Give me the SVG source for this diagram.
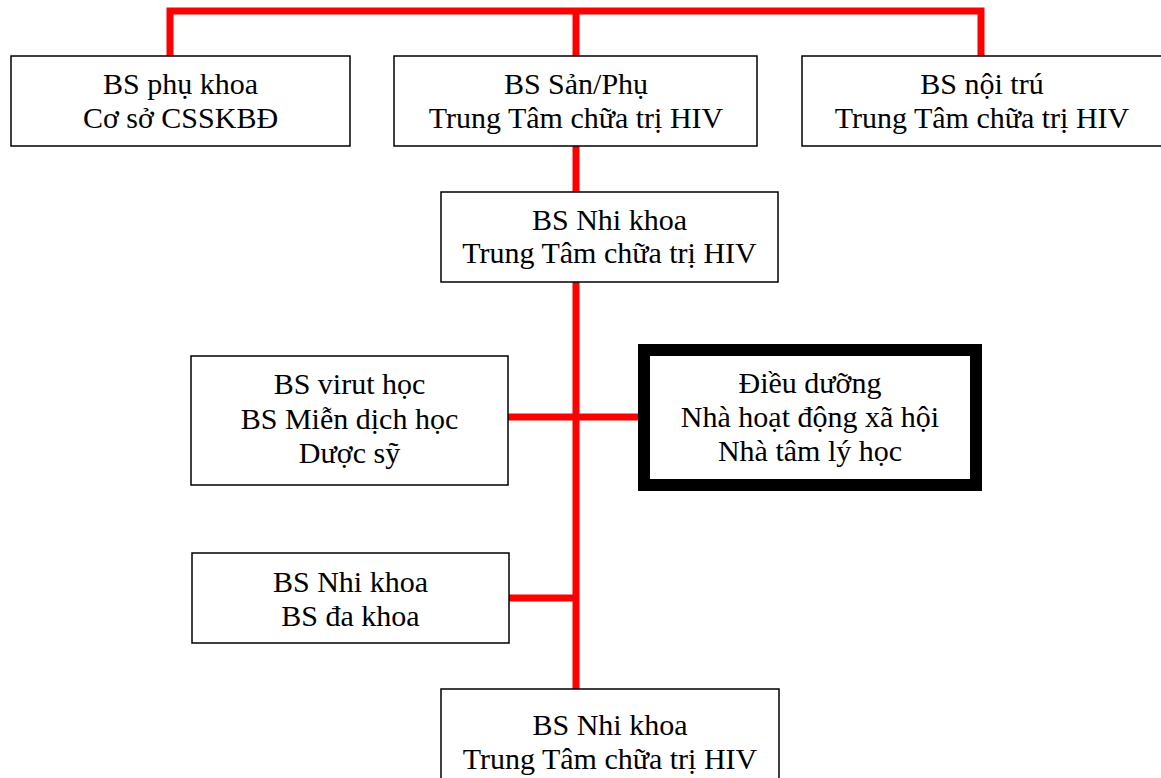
<svg xmlns="http://www.w3.org/2000/svg" width="1161" height="778" viewBox="0 0 1161 778">
  <style>
    .box { fill: #ffffff; stroke: #000000; stroke-width: 1.5; }
    .box-strong { fill: #ffffff; stroke: #000000; stroke-width: 12; }
    .lbl { font-family: "Liberation Serif", "Times New Roman", serif; font-size: 30px; fill: #000000; text-anchor: middle; }
    .link { fill: none; stroke: #ff0000; stroke-width: 7; stroke-linecap: butt; stroke-linejoin: miter; }
  </style>
  <rect width="1161" height="778" fill="#ffffff"/>

  <!-- red connector lines -->
  <g id="connectors">
    <polyline class="link" points="170,56 170,11 981,11 981,56"/>
    <line class="link" x1="576" y1="11" x2="576" y2="56"/>
    <line class="link" x1="576" y1="146" x2="576" y2="192"/>
    <line class="link" x1="576" y1="282" x2="576" y2="689"/>
    <line class="link" x1="508" y1="417" x2="644" y2="417"/>
    <line class="link" x1="509" y1="598" x2="576" y2="598"/>
  </g>

  <g id="node-phu-khoa">
    <rect class="box" x="11" y="56" width="339" height="90"/>
    <text class="lbl" x="180.5" y="94">BS phụ khoa</text>
    <text class="lbl" x="180.5" y="128">Cơ sở CSSKBĐ</text>
  </g>

  <g id="node-san-phu">
    <rect class="box" x="394" y="56" width="363" height="90"/>
    <text class="lbl" x="576" y="94">BS Sản/Phụ</text>
    <text class="lbl" x="576" y="128">Trung Tâm chữa trị HIV</text>
  </g>

  <g id="node-noi-tru">
    <rect class="box" x="802" y="56" width="362" height="90"/>
    <text class="lbl" x="982" y="94">BS nội trú</text>
    <text class="lbl" x="982" y="128">Trung Tâm chữa trị HIV</text>
  </g>

  <g id="node-nhi-khoa-top">
    <rect class="box" x="441" y="192" width="337" height="90"/>
    <text class="lbl" x="609.5" y="229.5">BS Nhi khoa</text>
    <text class="lbl" x="609.5" y="263">Trung Tâm chữa trị HIV</text>
  </g>

  <g id="node-virut">
    <rect class="box" x="191" y="356" width="317" height="129"/>
    <text class="lbl" x="349.5" y="393.5">BS virut học</text>
    <text class="lbl" x="349.5" y="429">BS Miễn dịch học</text>
    <text class="lbl" x="349.5" y="463">Dược sỹ</text>
  </g>

  <g id="node-dieu-duong">
    <rect class="box-strong" x="644" y="350" width="332" height="135"/>
    <text class="lbl" x="810" y="393">Điều dưỡng</text>
    <text class="lbl" x="810" y="427">Nhà hoạt động xã hội</text>
    <text class="lbl" x="810" y="461">Nhà tâm lý học</text>
  </g>

  <g id="node-da-khoa">
    <rect class="box" x="192" y="553" width="317" height="90"/>
    <text class="lbl" x="350.5" y="592">BS Nhi khoa</text>
    <text class="lbl" x="350.5" y="626">BS đa khoa</text>
  </g>

  <g id="node-nhi-khoa-bottom">
    <rect class="box" x="441" y="689" width="338" height="110"/>
    <text class="lbl" x="610" y="735">BS Nhi khoa</text>
    <text class="lbl" x="610" y="768.5">Trung Tâm chữa trị HIV</text>
  </g>
</svg>
